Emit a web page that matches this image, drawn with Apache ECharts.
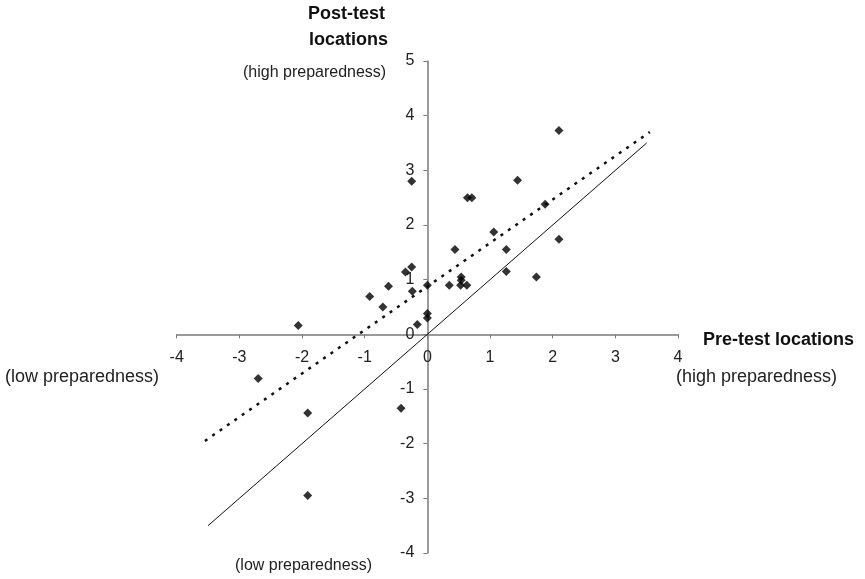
<!DOCTYPE html>
<html>
<head>
<meta charset="utf-8">
<script src="https://cdn.jsdelivr.net/npm/echarts@6/dist/echarts.min.js"></script>
<style>
html,body{margin:0;padding:0;background:#fff;}
#chart{width:865px;height:579px;}
</style>
</head>
<body>
<div id="chart"></div>
<script>
// Pre-test (x) vs post-test (y) locations
var preTest = [2.10, 1.44, 0.64, 0.71, 1.06, 1.88, 0.44, 1.26, 2.10, 1.26, 1.74, 0.54, 0.54, 0.35, 0.53, 0.63, 0.00,
               -0.25, -0.25, -0.35, -0.62, -0.71, -0.24, 0.00, 0.00, -0.16, -2.06, -0.92,
               -2.70, -1.91, -0.42, -1.91];
var postTest = [3.73, 2.82, 2.50, 2.50, 1.87, 2.38, 1.55, 1.55, 1.74, 1.15, 1.05, 1.05, 0.99, 0.90, 0.90, 0.90, 0.90,
                2.80, 1.23, 1.14, 0.88, 0.50, 0.79, 0.38, 0.30, 0.18, 0.16, 0.69,
                -0.81, -1.44, -1.35, -2.95];
// identity line (solid)
var identityX = [-3.5, 3.5];
var identityY = [-3.5, 3.5];
// fitted line (dotted)
var fitX = [-3.55, 3.55];
var fitY = [-1.95, 3.70];
// axis ticks
var xTicks = [-4, -3, -2, -1, 0, 1, 2, 3, 4];
var yTicks = [-4, -3, -2, -1, 0, 1, 2, 3, 4, 5];

function pairs(xs, ys) { return xs.map(function (x, i) { return [x, ys[i]]; }); }

var W = 865, H = 579;
var G = { left: 176.7, right: 187, top: 61, bottom: 26 };
var xMin = xTicks[0], xMax = xTicks[xTicks.length - 1];
var yMin = yTicks[0], yMax = yTicks[yTicks.length - 1];
var gw = W - G.left - G.right, gh = H - G.top - G.bottom;
// move the axes so they cross at the origin (labels follow)
var xOffset = -((0 - yMin) / (yMax - yMin)) * gh;
var yOffset = -((0 - xMin) / (xMax - xMin)) * gw;

var chart = echarts.init(document.getElementById('chart'));
var font = 'Liberation Sans, Arial, sans-serif';
var axisCol = '#7a7a7a';
chart.setOption({
  animation: false,
  backgroundColor: '#fff',
  grid: { left: G.left, right: G.right, top: G.top, bottom: G.bottom, containLabel: false },
  xAxis: {
    type: 'value', position: 'bottom', offset: xOffset,
    min: xMin, max: xMax, interval: 1,
    axisLine: { onZero: false, lineStyle: { color: axisCol, width: 1.5 } },
    axisTick: { show: true, inside: false, length: 4, lineStyle: { color: axisCol } },
    axisLabel: { color: '#222', fontFamily: font, fontSize: 16, margin: 15 },
    splitLine: { show: false }
  },
  yAxis: {
    type: 'value', position: 'left', offset: yOffset,
    min: yMin, max: yMax, interval: 1,
    axisLine: { onZero: false, lineStyle: { color: axisCol, width: 1.5 } },
    axisTick: { show: true, inside: false, length: 4, lineStyle: { color: axisCol } },
    axisLabel: { color: '#222', fontFamily: font, fontSize: 16, margin: 13 },
    splitLine: { show: false }
  },
  series: [
    {
      type: 'line', data: pairs(identityX, identityY), symbol: 'none',
      lineStyle: { color: '#111', width: 1 }, z: 2
    },
    {
      type: 'line', data: pairs(fitX, fitY), symbol: 'none',
      lineStyle: { color: '#111', width: 2.5, type: [3, 6] }, z: 2
    },
    {
      type: 'scatter', data: pairs(preTest, postTest), symbol: 'diamond', symbolSize: 9,
      itemStyle: { color: '#000' }, z: 3
    }
  ],
  graphic: [
    { type: 'text', left: 308, top: 5, style: { text: 'Post-test', font: 'bold 18px ' + font, fill: '#111' } },
    { type: 'text', left: 309, top: 31, style: { text: 'locations', font: 'bold 18px ' + font, fill: '#111' } },
    { type: 'text', left: 243, top: 65, style: { text: '(high preparedness)', font: '16px ' + font, fill: '#222' } },
    { type: 'text', left: 703, top: 331, style: { text: 'Pre-test locations', font: 'bold 18px ' + font, fill: '#111' } },
    { type: 'text', left: 676, top: 368, style: { text: '(high preparedness)', font: '18px ' + font, fill: '#222' } },
    { type: 'text', left: 5, top: 368, style: { text: '(low preparedness)', font: '18px ' + font, fill: '#222' } },
    { type: 'text', left: 235, top: 558, style: { text: '(low preparedness)', font: '16px ' + font, fill: '#222' } }
  ]
});
</script>
</body>
</html>
